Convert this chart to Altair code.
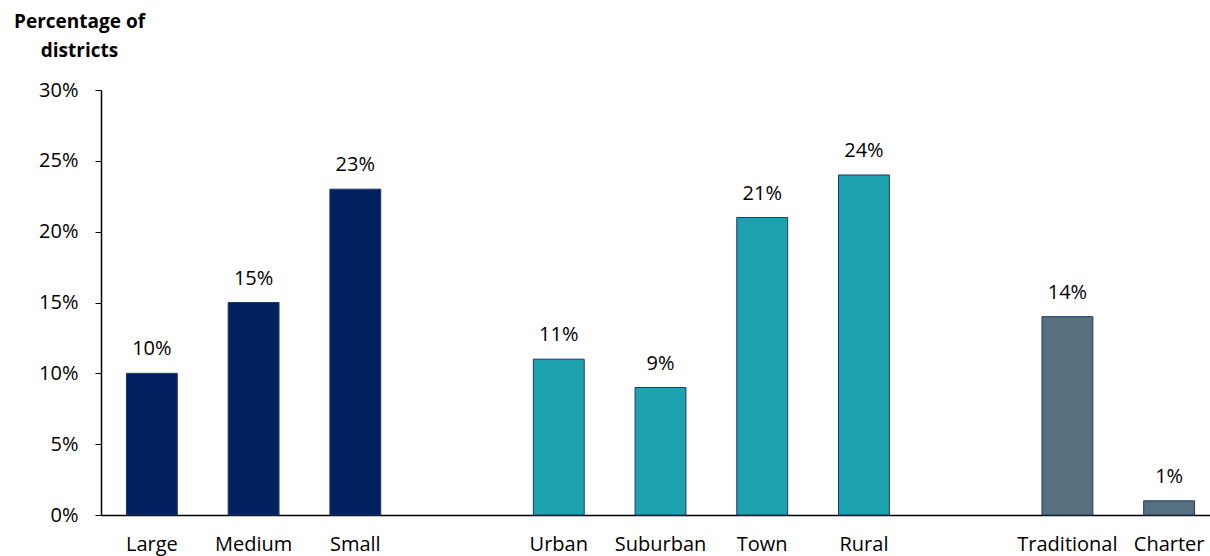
import altair as alt
import pandas as pd

categories = ["Large", "Medium", "Small", "Urban", "Suburban", "Town", "Rural", "Traditional", "Charter"]
values = [10, 15, 23, 11, 9, 21, 24, 14, 1]
groups = ["Size", "Size", "Size", "Locale", "Locale", "Locale", "Locale", "Type", "Type"]
slot_order = ["Large", "Medium", "Small", "gap1", "Urban", "Suburban", "Town", "Rural", "gap2", "Traditional", "Charter"]
group_names = ["Size", "Locale", "Type"]
group_colors = ["#002060", "#1CA3AF", "#56707F"]
y_ticks = [0, 5, 10, 15, 20, 25, 30]

df = pd.DataFrame({"category": categories, "value": values, "group": groups})
df["label"] = [f"{v}%" for v in values]

FONT = "Open Sans"
FS = 20

x_enc = alt.X(
    "category:N",
    sort=slot_order,
    scale=alt.Scale(domain=slot_order, paddingInner=0.5, paddingOuter=0.25, range=[0, 1119]),
    axis=alt.Axis(
        title=None,
        labelAngle=0,
        ticks=False,
        labelPadding=35,
        labelBaseline="alphabetic",
        labelFontSize=FS,
        labelColor="#000000",
        labelFont=FONT,
        domainColor="#000000",
        domainWidth=1.5,
        labelExpr="indexof(datum.label, 'gap') == 0 ? '' : datum.label",
    ),
)

y_enc = alt.Y(
    "value:Q",
    scale=alt.Scale(domain=[0, 30], nice=False),
    axis=alt.Axis(
        values=y_ticks,
        labelExpr="datum.value + '%'",
        grid=False,
        tickSize=6,
        tickColor="#000000",
        domainColor="#000000",
        domainWidth=1.5,
        labelPadding=17,
        labelFontSize=FS,
        labelColor="#000000",
        labelFont=FONT,
        title=["Percentage of", "districts"],
        titleAngle=0,
        titleAlign="center",
        titleBaseline="alphabetic",
        titleX=-22,
        titleY=-63,
        titleLineHeight=29,
        titleFontSize=19,
        titleFontWeight="bold",
        titleFont=FONT,
        titleColor="#000000",
    ),
)

bars = alt.Chart(df).mark_bar(stroke="#1F3864", strokeWidth=1).encode(
    x=x_enc,
    y=y_enc,
    color=alt.Color("group:N", scale=alt.Scale(domain=group_names, range=group_colors), legend=None),
)

texts = alt.Chart(df).mark_text(dy=-18, baseline="alphabetic", fontSize=FS, font=FONT, color="#000000").encode(
    x=alt.X("category:N", sort=slot_order),
    y=alt.Y("value:Q"),
    text="label:N",
)

chart = (
    alt.layer(bars, texts)
    .properties(
        width=1109,
        height=425,
        autosize=alt.AutoSizeParams(type="none"),
        padding={"left": 101, "top": 90, "right": 0, "bottom": 41},
        background="#ffffff",
    )
    .configure_view(stroke=None)
)

chart.save("out.html", embed_options={"renderer": "svg", "actions": False})
